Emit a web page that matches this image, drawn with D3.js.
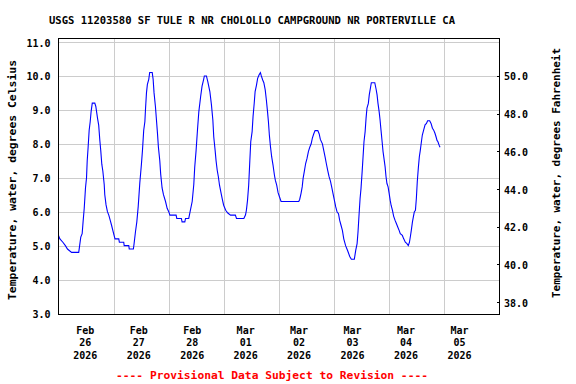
<!DOCTYPE html>
<html><head><meta charset="utf-8">
<script src="https://cdn.jsdelivr.net/npm/d3@7"></script>
<style>
body{margin:0;background:#fff}
svg{display:block}
text{font-family:"DejaVu Sans Mono","Liberation Mono",monospace;font-weight:bold;font-size:10px;fill:#000}
</style>
</head><body>
<svg id="chart" width="576" height="384"></svg>
<script>
// ---- data ----
const titleText = "USGS 11203580 SF TULE R NR CHOLOLLO CAMPGROUND NR PORTERVILLE CA";
const leftTitle = "Temperature, water, degrees Celsius";
const rightTitle = "Temperature, water, degrees Fahrenheit";
const footerText = "---- Provisional Data Subject to Revision ----";
const startDate = Date.UTC(2026, 1, 26);
const dayLabels = ["2026-02-26","2026-02-27","2026-02-28","2026-03-01","2026-03-02","2026-03-03","2026-03-04","2026-03-05"];
const celsiusTicks = [3,4,5,6,7,8,9,10,11];
const fahrenheitTicks = [38,40,42,44,46,48,50];
// hours after Feb 26 00:00 and water temperature (deg C)
const hours = [0,0.6,1.9,3.0,3.9,5.7,8.8,9.2,9.7,10.3,10.7,11.2,11.75,12.2,12.5,12.9,13.35,13.8,14.2,14.7,15.8,16.25,17.0,17.5,18.0,18.4,18.85,19.3,19.9,20.15,20.7,21.3,21.9,22.5,23.1,23.65,24.2,24.6,26.25,26.5,28.4,28.6,30.6,30.8,32.6,32.9,33.5,34.1,34.7,35.4,36.1,36.55,37.1,37.6,37.9,38.3,38.7,39.3,39.7,40.8,41.2,41.6,42.2,42.65,43.1,43.5,44.1,44.5,45.1,45.7,46.6,47.3,48.0,48.5,51.2,51.5,53.5,53.8,55.0,55.3,56.7,57.3,58.2,58.9,59.3,59.9,60.5,61.1,61.9,62.5,63.2,63.5,64.4,65.0,65.9,66.6,67.2,67.6,68.2,68.6,69.1,69.6,70.1,70.8,71.4,71.9,72.8,73.7,74.9,77.0,77.5,80.7,81.4,81.8,82.3,82.8,83.3,83.7,84.3,84.7,85.2,85.6,86.2,86.7,87.3,87.9,88.3,88.9,89.4,90.0,90.5,91.0,91.4,91.8,92.3,92.8,93.4,94.0,94.4,95.0,95.6,96.2,96.9,104.6,105.0,105.6,106.1,106.5,107.1,107.6,108.2,108.8,109.4,110.0,110.5,111.1,111.7,112.9,113.5,114.0,114.9,115.5,116.1,116.6,117.2,117.8,118.4,119.0,119.5,120.1,120.7,121.3,121.9,122.4,123.0,123.6,124.2,125.0,125.9,126.8,127.5,128.8,129.4,130.0,130.4,130.8,131.3,131.7,132.2,132.6,133.0,133.5,133.9,134.3,134.9,135.3,135.8,136.2,137.7,138.3,138.7,139.1,139.6,140.0,140.4,140.9,141.3,141.7,142.2,142.6,143.0,143.5,143.9,144.4,144.8,145.4,145.9,146.5,147.1,147.7,148.3,148.8,149.7,150.3,151.0,151.7,152.3,152.8,153.2,153.6,154.1,154.5,154.9,155.4,155.8,156.2,156.7,157.1,157.5,158.0,158.4,159.0,159.6,160.2,160.7,161.6,162.2,162.8,163.3,163.9,164.4,164.8,165.2,165.7,166.1];
const tempC = [5.3,5.2,5.1,5.0,4.9,4.8,4.8,5.0,5.25,5.35,5.7,6.1,6.7,7.0,7.5,7.9,8.4,8.65,8.95,9.2,9.2,9.1,8.75,8.55,8.1,7.8,7.4,7.2,6.8,6.5,6.2,6.0,5.9,5.75,5.6,5.45,5.3,5.2,5.2,5.1,5.1,5.0,5.0,4.9,4.9,5.05,5.4,5.7,6.15,6.85,7.4,7.8,8.4,8.65,9.05,9.5,9.75,9.9,10.1,10.1,9.9,9.5,9.1,8.7,8.3,7.9,7.5,7.1,6.7,6.5,6.3,6.1,6.0,5.9,5.9,5.8,5.8,5.7,5.7,5.8,5.8,6.0,6.3,6.8,7.3,7.8,8.4,8.95,9.4,9.7,9.9,10.0,10.0,9.83,9.54,9.14,8.7,8.2,7.8,7.5,7.22,7.03,6.78,6.54,6.34,6.19,6.04,5.96,5.9,5.9,5.8,5.8,5.9,6.04,6.34,6.78,7.5,8.06,8.36,8.8,9.19,9.54,9.73,9.93,10.03,10.1,10.0,9.88,9.8,9.59,9.29,8.95,8.65,8.26,7.91,7.62,7.37,7.08,6.93,6.78,6.56,6.44,6.3,6.3,6.36,6.54,6.73,6.98,7.22,7.42,7.57,7.77,7.9,8.0,8.16,8.29,8.39,8.39,8.29,8.13,8.0,7.8,7.6,7.42,7.22,7.03,6.9,6.71,6.54,6.34,6.14,5.99,5.94,5.75,5.6,5.45,5.2,5.0,4.85,4.68,4.6,4.6,4.86,5.06,5.4,5.85,6.39,6.68,7.18,7.62,8.06,8.36,8.75,9.05,9.19,9.44,9.64,9.8,9.8,9.6,9.44,9.19,8.95,8.7,8.41,8.06,7.77,7.57,7.32,7.03,6.83,6.73,6.56,6.34,6.19,6.04,5.87,5.75,5.65,5.55,5.45,5.35,5.3,5.2,5.1,5.06,5.0,5.1,5.27,5.45,5.7,5.85,5.99,6.04,6.39,6.88,7.32,7.62,7.8,8.06,8.26,8.41,8.56,8.6,8.68,8.68,8.6,8.46,8.41,8.31,8.2,8.1,8.06,7.96,7.9];

// ---- layout ----
const L = 58.5, R = 499.5, T = 38.5, B = 314.5;
const svg = d3.select("#chart");
const xDomain = [new Date(startDate), new Date(Date.UTC(2026, 2, 6))];
const x = d3.scaleUtc().domain(xDomain).range([L, R]);
const labelX = d3.scaleUtc().domain(xDomain).range([L, L + (R - L) * 0.97]);
const y = d3.scaleLinear().domain([3, 11]).range([313.5, 42]);
const yF = d3.scaleLinear().domain([3 * 1.8 + 32, 11 * 1.8 + 32]).range([313.5, 42]);

const data = hours.map((h, i) => ({t: new Date(startDate + h * 3600e3), v: tempC[i]}));

// gridlines
const grid = svg.append("g").attr("stroke", "#cccccc").attr("stroke-width", 1).attr("shape-rendering", "crispEdges");
grid.selectAll("line.h").data(celsiusTicks.filter(d => d > 3)).join("line")
  .attr("x1", L).attr("x2", R).attr("y1", d => Math.round(y(d)) + 0.5).attr("y2", d => Math.round(y(d)) + 0.5);
const days = d3.utcDay.range(d3.utcDay.offset(xDomain[0], 1), xDomain[1]);
grid.selectAll("line.v").data(days).join("line")
  .attr("y1", T).attr("y2", B).attr("x1", d => Math.round(x(d)) + 0.5).attr("x2", d => Math.round(x(d)) + 0.5);

// data line
svg.append("path").datum(data)
  .attr("fill", "none").attr("stroke", "#0000ff").attr("stroke-width", 1.1)
  .attr("d", d3.line().x(d => x(d.t)).y(d => y(d.v)));

// frame
svg.append("rect").attr("x", L).attr("y", T).attr("width", R - L).attr("height", B - T)
  .attr("fill", "none").attr("stroke", "#000").attr("stroke-width", 1).attr("shape-rendering", "crispEdges");

// left labels
svg.append("g").selectAll("text").data(celsiusTicks).join("text")
  .attr("x", 50.5).attr("y", d => y(d) + 4.5).attr("text-anchor", "end")
  .text(d => d3.format(".1f")(d));

// right ticks + labels
svg.append("g").attr("stroke", "#000").attr("shape-rendering", "crispEdges")
  .selectAll("line").data(fahrenheitTicks).join("line")
  .attr("x1", R - 3).attr("x2", R).attr("y1", d => Math.round(yF(d)) + 0.5).attr("y2", d => Math.round(yF(d)) + 0.5);
svg.append("g").selectAll("text").data(fahrenheitTicks).join("text")
  .attr("x", 504).attr("y", d => yF(d) + 4.5).attr("text-anchor", "start")
  .text(d => d3.format(".1f")(d));

// x labels
const parse = d3.utcParse("%Y-%m-%d");
const xl = svg.append("g").selectAll("text").data(dayLabels.map(parse)).join("text")
  .attr("text-anchor", "middle");
xl.each(function(d) {
  const cx = labelX(d3.utcHour.offset(d, 12));
  const t = d3.select(this);
  t.append("tspan").attr("x", cx).attr("y", 333.5).text(d3.utcFormat("%b")(d));
  t.append("tspan").attr("x", cx).attr("y", 346).text(d3.utcFormat("%d")(d));
  t.append("tspan").attr("x", cx).attr("y", 359).text(d3.utcFormat("%Y")(d));
});

// titles
svg.append("text").attr("x", 49).attr("y", 23.5).attr("textLength", 406).attr("lengthAdjust", "spacingAndGlyphs")
  .text(titleText);
svg.append("text").attr("transform", "translate(15.5,180) rotate(-90)").attr("text-anchor", "middle")
  .attr("textLength", 240).attr("lengthAdjust", "spacingAndGlyphs").text(leftTitle);
svg.append("text").attr("transform", "translate(560,173) rotate(-90)").attr("text-anchor", "middle")
  .attr("textLength", 250).attr("lengthAdjust", "spacingAndGlyphs").text(rightTitle);
svg.append("text").attr("x", 116).attr("y", 379).attr("textLength", 312).attr("lengthAdjust", "spacingAndGlyphs")
  .style("fill", "#ff0000").text(footerText);
</script>
</body></html>
